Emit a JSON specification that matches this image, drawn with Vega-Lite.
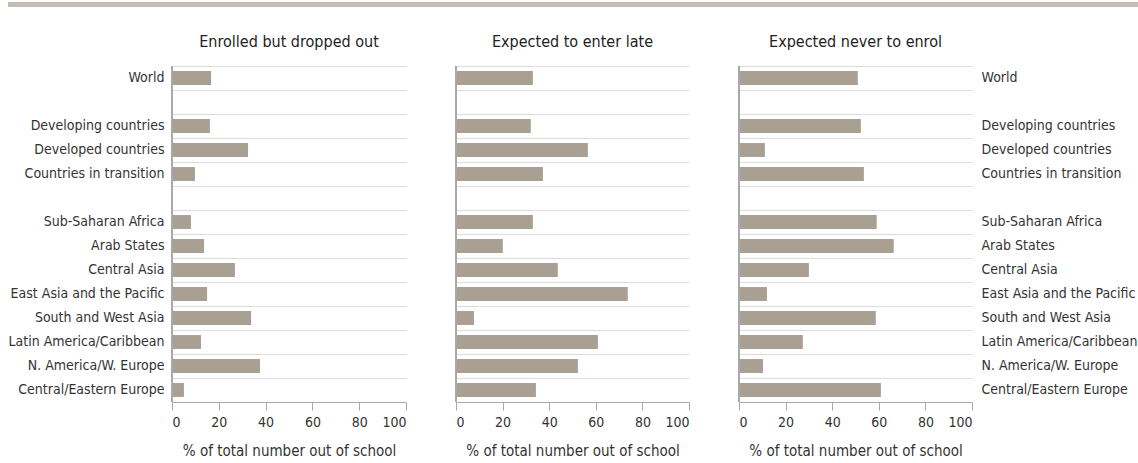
{
  "$schema": "https://vega.github.io/schema/vega-lite/v6.json",
  "background": "white",
  "padding": {"left": 8, "top": 2, "right": 1, "bottom": 0},
  "config": {
    "font": "DejaVu Sans Condensed, Roboto, sans-serif",
    "view": {"stroke": null},
    "axis": {
      "labelFont": "DejaVu Sans Condensed, Roboto, sans-serif",
      "titleFont": "DejaVu Sans Condensed, Roboto, sans-serif",
      "labelFontSize": 14,
      "titleFontSize": 15,
      "titleFontWeight": "normal",
      "labelColor": "#333333",
      "titleColor": "#333333",
      "domainColor": "#a8a8a8",
      "tickColor": "#a8a8a8",
      "gridColor": "#dcdcdc"
    },
    "title": {"font": "DejaVu Sans Condensed, Roboto, sans-serif", "fontSize": 16, "fontWeight": "normal", "color": "#222222", "offset": 16}
  },
  "datasets": {
    "banner": [{"x0": 0, "x1": 1}],
    "oos": [
      {"region": "World", "dropped": 16.7, "late": 33.0, "never": 51.0},
      {"region": "Developing countries", "dropped": 16.2, "late": 32.1, "never": 52.3},
      {"region": "Developed countries", "dropped": 32.5, "late": 56.6, "never": 11.1},
      {"region": "Countries in transition", "dropped": 9.8, "late": 37.3, "never": 53.6},
      {"region": "Sub-Saharan Africa", "dropped": 8.1, "late": 33.0, "never": 59.1},
      {"region": "Arab States", "dropped": 13.7, "late": 20.1, "never": 66.4},
      {"region": "Central Asia", "dropped": 26.9, "late": 43.7, "never": 30.0},
      {"region": "East Asia and the Pacific", "dropped": 15.0, "late": 73.7, "never": 12.0},
      {"region": "South and West Asia", "dropped": 33.8, "late": 7.7, "never": 58.7},
      {"region": "Latin America/Caribbean", "dropped": 12.4, "late": 60.9, "never": 27.4},
      {"region": "N. America/W. Europe", "dropped": 37.6, "late": 52.3, "never": 10.3},
      {"region": "Central/Eastern Europe", "dropped": 5.1, "late": 34.3, "never": 60.9}
    ]
  },
  "bounds": "flush",
  "spacing": 59,
  "vconcat": [
    {
      "data": {"name": "banner"},
      "width": 966,
      "height": 5,
      "mark": {"type": "rect", "color": "#c5bcb3"},
      "encoding": {
        "x": {"field": "x0", "type": "quantitative", "scale": {"domain": [0.1451, 1], "nice": false, "zero": false}, "axis": null},
        "x2": {"field": "x1"}
      }
    },
    {
      "bounds": "flush",
      "spacing": 50,
      "hconcat": [
        {
          "data": {"name": "oos"},
          "width": 234,
          "height": 336,
          "title": "Enrolled but dropped out",
          "layer": [
            {
              "mark": {"type": "bar", "color": "#aa9f93", "height": {"band": 0.58}},
              "encoding": {
                "x": {"field": "dropped", "type": "quantitative", "scale": {"domain": [0, 100]},
                  "axis": {"title": "% of total number out of school", "values": [0, 20, 40, 60, 80, 100], "grid": false, "tickSize": 8, "labelPadding": 5, "titlePadding": 14}},
                "y": {"field": "region", "type": "nominal",
                  "scale": {"domain": ["World", "gap1", "Developing countries", "Developed countries", "Countries in transition", "gap2", "Sub-Saharan Africa", "Arab States", "Central Asia", "East Asia and the Pacific", "South and West Asia", "Latin America/Caribbean", "N. America/W. Europe", "Central/Eastern Europe"], "paddingInner": 0, "paddingOuter": 0},
                  "axis": {"title": null, "ticks": false, "domain": false, "grid": true, "bandPosition": 0, "labelPadding": 8, "labelExpr": "indexof(datum.value, 'gap') == 0 ? '' : datum.value"}}
              }
            },
            {
              "mark": {"type": "rule", "color": "#a8a8a8"},
              "encoding": {"x": {"datum": 0}}
            }
          ]
        },
        {
          "data": {"name": "oos"},
          "width": 233,
          "height": 336,
          "title": "Expected to enter late",
          "layer": [
            {
              "mark": {"type": "bar", "color": "#aa9f93", "height": {"band": 0.58}},
              "encoding": {
                "x": {"field": "late", "type": "quantitative", "scale": {"domain": [0, 100]},
                  "axis": {"title": "% of total number out of school", "values": [0, 20, 40, 60, 80, 100], "grid": false, "tickSize": 8, "labelPadding": 5, "titlePadding": 14}},
                "y": {"field": "region", "type": "nominal",
                  "scale": {"domain": ["World", "gap1", "Developing countries", "Developed countries", "Countries in transition", "gap2", "Sub-Saharan Africa", "Arab States", "Central Asia", "East Asia and the Pacific", "South and West Asia", "Latin America/Caribbean", "N. America/W. Europe", "Central/Eastern Europe"], "paddingInner": 0, "paddingOuter": 0},
                  "axis": {"title": null, "ticks": false, "domain": false, "labels": false, "grid": true, "bandPosition": 0}}
              }
            },
            {
              "mark": {"type": "rule", "color": "#a8a8a8"},
              "encoding": {"x": {"datum": 0}}
            }
          ]
        },
        {
          "data": {"name": "oos"},
          "width": 233,
          "height": 336,
          "title": "Expected never to enrol",
          "layer": [
            {
              "mark": {"type": "bar", "color": "#aa9f93", "height": {"band": 0.58}},
              "encoding": {
                "x": {"field": "never", "type": "quantitative", "scale": {"domain": [0, 100]},
                  "axis": {"title": "% of total number out of school", "values": [0, 20, 40, 60, 80, 100], "grid": false, "tickSize": 8, "labelPadding": 5, "titlePadding": 14}},
                "y": {"field": "region", "type": "nominal",
                  "scale": {"domain": ["World", "gap1", "Developing countries", "Developed countries", "Countries in transition", "gap2", "Sub-Saharan Africa", "Arab States", "Central Asia", "East Asia and the Pacific", "South and West Asia", "Latin America/Caribbean", "N. America/W. Europe", "Central/Eastern Europe"], "paddingInner": 0, "paddingOuter": 0},
                  "axis": {"title": null, "orient": "right", "ticks": false, "domain": false, "grid": true, "bandPosition": 0, "labelPadding": 9, "labelAlign": "left", "labelExpr": "indexof(datum.value, 'gap') == 0 ? '' : datum.value"}}
              }
            },
            {
              "mark": {"type": "rule", "color": "#a8a8a8"},
              "encoding": {"x": {"datum": 0}}
            }
          ]
        }
      ]
    }
  ]
}
